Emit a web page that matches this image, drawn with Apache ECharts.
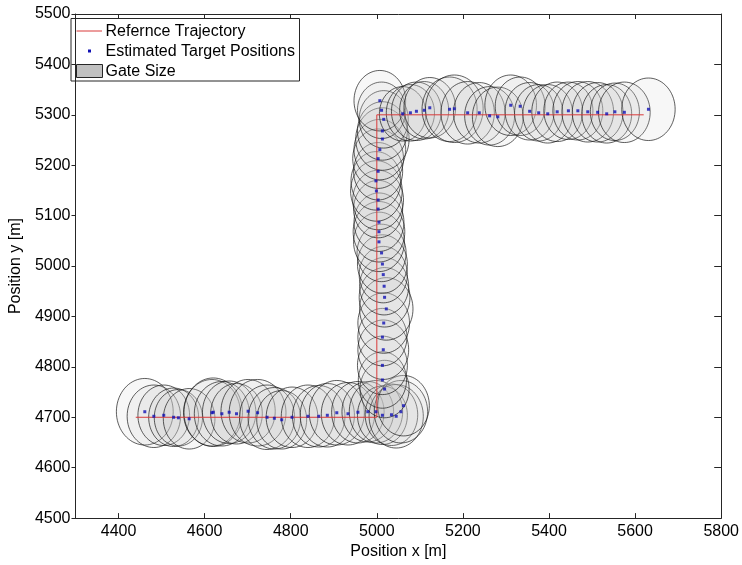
<!DOCTYPE html>
<html>
<head>
<meta charset="utf-8">
<script src="https://cdn.jsdelivr.net/npm/echarts@6/dist/echarts.min.js"></script>
<style>html,body{margin:0;padding:0;background:#fff}#c{width:742px;height:565px}</style>
</head>
<body>
<div id="c"></div>
<script>
// Reference trajectory (m)
const trajX = [4440, 5000, 5000, 5620];
const trajY = [4700, 4700, 5300, 5300];

// Estimated target positions (m)
const estX = [
  4461,4482,4505,4528,4539,4564,4617,4620,4640,4657,4674,4701,4723,4745,4762,4779,4803,4840,4865,4885,4907,4933,4956,4979,4998,5013,5034,5045,5056,5062,
  5018,5013,5013,5015,5013,5016,5022,5018,5017,5015,5013,5011,5005,5005,5005,5003,5003,4999,4998,5003,5003,5007,5013,5013,5016,5011,5007,
  5060,5078,5092,5110,5123,5169,5180,5211,5238,5262,5281,5311,5333,5355,5376,5397,5419,5445,5467,5490,5513,5534,5553,5575,5631
];
const estY = [
  4711,4702,4704,4700,4699,4697,4709,4710,4707,4710,4707,4712,4709,4700,4698,4695,4700,4702,4702,4704,4709,4707,4710,4711,4711,4704,4705,4702,4711,4723,
  4756,4774,4803,4834,4859,4887,4915,4938,4960,4983,5004,5026,5048,5068,5087,5113,5131,5149,5169,5188,5213,5231,5252,5268,5291,5309,5328,
  5302,5304,5307,5309,5314,5311,5312,5304,5304,5298,5296,5319,5317,5307,5304,5302,5306,5308,5308,5306,5305,5302,5306,5305,5311
];
// Gate radius (m)
const gateR = [
  66,62,60,58,56,60,66,68,64,62,60,63,66,64,61,58,60,62,61,63,64,62,61,60,62,58,61,63,62,60,
  57,56,58,59,57,60,62,59,57,56,58,57,59,60,58,57,59,60,58,57,59,60,62,58,57,56,60,
  54,56,58,57,60,64,67,62,60,58,59,60,58,57,56,58,59,57,58,60,59,58,57,60,62
];
// Tick labels
const xTicks = [4400,4600,4800,5000,5200,5400,5600,5800];
const yTicks = [4500,4600,4700,4800,4900,5000,5100,5200,5300,5400,5500];

const FONT = '"Liberation Sans", Arial, sans-serif';
const traj = trajX.map((x, i) => [x, trajY[i]]);
const est = estX.map((x, i) => [x, estY[i]]);
const gates = estX.map((x, i) => [x, estY[i], gateR[i]]);
const plain = v => String(v);

const chart = echarts.init(document.getElementById('c'), null, {renderer: 'canvas'});
const axisLine = {show: true, lineStyle: {color: '#262626', width: 1}};
chart.setOption({
  backgroundColor: '#ffffff',
  animation: false,
  grid: {left: 67, right: 16.5, top: 14, bottom: 40, containLabel: false},
  xAxis: [{
    type: 'value', min: 4300, max: 5800, position: 'bottom',
    axisLine: axisLine,
    axisTick: {show: true, inside: true, length: 5, customValues: xTicks, lineStyle: {color: '#262626'}},
    axisLabel: {show: true, customValues: xTicks, margin: 5, color: '#000', fontSize: 16, fontFamily: FONT, formatter: plain},
    splitLine: {show: false},
    name: 'Position x [m]', nameLocation: 'middle', nameGap: 18,
    nameTextStyle: {color: '#000', fontSize: 16, fontFamily: FONT}
  }, {
    type: 'value', min: 4300, max: 5800, position: 'top',
    axisLine: axisLine,
    axisTick: {show: true, inside: true, length: 5, customValues: xTicks, lineStyle: {color: '#262626'}},
    axisLabel: {show: false}, splitLine: {show: false}
  }],
  yAxis: [{
    type: 'value', min: 4500, max: 5500, interval: 100, position: 'left',
    axisLine: axisLine,
    axisTick: {show: true, inside: false, length: 4, lineStyle: {color: '#262626'}},
    axisLabel: {show: true, customValues: yTicks, margin: 5, color: '#000', fontSize: 16, fontFamily: FONT, formatter: plain},
    splitLine: {show: false},
    name: 'Position y [m]', nameLocation: 'middle', nameGap: 37,
    nameTextStyle: {color: '#000', fontSize: 16, fontFamily: FONT}
  }, {
    type: 'value', min: 4500, max: 5500, interval: 100, position: 'right',
    axisLine: axisLine,
    axisTick: {show: true, inside: true, length: 7, lineStyle: {color: '#262626'}},
    axisLabel: {show: false}, splitLine: {show: false}
  }],
  series: [{
    name: 'Gate Size', type: 'custom', xAxisIndex: 0, yAxisIndex: 0,
    data: gates, clip: true,
    renderItem: function (params, api) {
      const c = api.coord([api.value(0), api.value(1)]);
      const s = api.size([api.value(2), api.value(2)]);
      const pts = [];
      for (let k = 0; k < 72; k++) {
        const a = k / 72 * Math.PI * 2;
        pts.push([c[0] + s[0] * Math.cos(a), c[1] + s[1] * Math.sin(a)]);
      }
      return {
        type: 'polygon', shape: {points: pts},
        style: {fill: 'rgba(200,200,200,0.14)', stroke: 'rgba(20,20,20,0.9)', lineWidth: 0.75}
      };
    },
    z: 1
  }, {
    name: 'Refernce Trajectory', type: 'line', data: traj, symbol: 'none',
    lineStyle: {color: '#d93a3a', width: 1}, z: 3
  }, {
    name: 'Estimated Target Positions', type: 'scatter', data: est,
    symbol: 'rect', symbolSize: 3, itemStyle: {color: '#1010b4'}, z: 4
  }],
  graphic: [{
    type: 'group', left: 70.5, top: 18, z: 100,
    children: [
      {type: 'rect', shape: {x: 0, y: 0, width: 228.5, height: 62.5}, style: {fill: '#fff', stroke: '#262626', lineWidth: 1}},
      {type: 'line', shape: {x1: 5.5, y1: 12.5, x2: 31, y2: 12.5}, style: {stroke: '#d93a3a', lineWidth: 1}},
      {type: 'text', x: 34.5, y: 13, style: {text: 'Refernce Trajectory', font: '16px ' + FONT, fill: '#000', verticalAlign: 'middle'}},
      {type: 'rect', shape: {x: 17, y: 31, width: 3, height: 3}, style: {fill: '#1010b4'}},
      {type: 'text', x: 34.5, y: 33, style: {text: 'Estimated Target Positions', font: '16px ' + FONT, fill: '#000', verticalAlign: 'middle'}},
      {type: 'rect', shape: {x: 5.5, y: 46, width: 26, height: 13}, style: {fill: '#c0c0c0', stroke: '#262626', lineWidth: 1}},
      {type: 'text', x: 34.5, y: 53, style: {text: 'Gate Size', font: '16px ' + FONT, fill: '#000', verticalAlign: 'middle'}}
    ]
  }]
});
</script>
</body>
</html>
